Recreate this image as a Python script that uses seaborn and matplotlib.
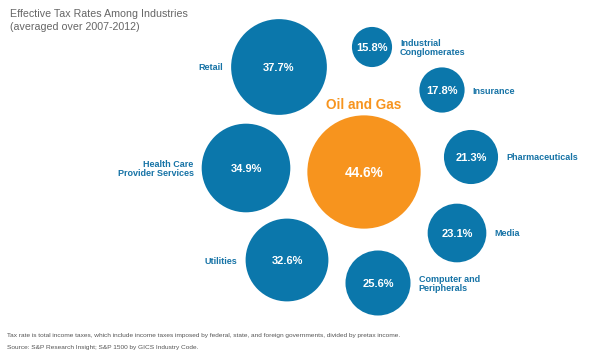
import matplotlib
matplotlib.use("Agg")
import matplotlib.pyplot as plt
import seaborn as sns
import pandas as pd

# ---- data ----
industries = ["Oil and Gas", "Retail", "Health Care\nProvider Services", "Utilities",
              "Computer and\nPeripherals", "Media", "Pharmaceuticals", "Insurance",
              "Industrial\nConglomerates"]
rates = [44.6, 37.7, 34.9, 32.6, 25.6, 23.1, 21.3, 17.8, 15.8]
groups = ["highlight", "other", "other", "other", "other", "other", "other", "other", "other"]

# ---- layout (pixel positions of bubble centres, label side) ----
pos_x = [364, 279, 246, 287, 378, 457, 471, 442, 372]
pos_y = [172, 67, 168, 260, 283, 233, 157, 90, 47]
label_side = ["top", "left", "left", "left", "right", "right", "right", "right", "right"]

W, H, DPI = 592, 360, 100
BLUE = "#0b77ab"
ORANGE = "#f7941e"
LABEL_BLUE = "#1673a6"
PX_PER_UNIT = 1.27  # bubble radius in px per percentage point

df = pd.DataFrame({"industry": industries, "rate": rates, "group": groups,
                   "x": pos_x, "y": pos_y, "side": label_side})

sns.set_theme(style="white")
plt.rcParams["font.family"] = ["Liberation Sans", "DejaVu Sans"]

fig = plt.figure(figsize=(W / DPI, H / DPI), dpi=DPI)
ax = fig.add_axes([0, 0, 1, 1])
ax.set_xlim(0, W)
ax.set_ylim(H, 0)
ax.axis("off")

# marker area (pt^2) so radius in px is proportional to rate
def area(v):
    d_pt = 2 * PX_PER_UNIT * v * 72 / DPI
    return d_pt ** 2

size_map = {v: area(v) for v in rates}
sns.scatterplot(data=df, x="x", y="y", hue="group", size="rate",
                palette={"highlight": ORANGE, "other": BLUE},
                sizes=size_map, legend=False, linewidth=0, edgecolor="none",
                alpha=1, ax=ax)

for _, row in df.iterrows():
    r = PX_PER_UNIT * row.rate
    big = row.group == "highlight"
    ax.text(row.x, row.y + 1, f"{row.rate:.1f}%", color="white", fontweight="bold",
            fontsize=9.8 if big else 8.0, ha="center", va="center")
    gap = 8
    if row.side == "left":
        ax.text(row.x - r - gap, row.y + 1, row.industry, color=LABEL_BLUE,
                fontweight="bold", fontsize=6.5, ha="right", va="center",
                multialignment="right", linespacing=1.1)
    elif row.side == "right":
        ax.text(row.x + r + gap, row.y + 1, row.industry, color=LABEL_BLUE,
                fontweight="bold", fontsize=6.5, ha="left", va="center",
                multialignment="left", linespacing=1.1)
    else:
        ax.text(row.x, row.y - r - 3, row.industry, color=ORANGE,
                fontweight="bold", fontsize=9.8, ha="center", va="bottom")

ax.text(10, 14, "Effective Tax Rates Among Industries", color="#666666",
        fontsize=7.7, ha="left", va="center")
ax.text(10, 27, "(averaged over 2007-2012)", color="#666666",
        fontsize=7.7, ha="left", va="center")

ax.text(7, 336, "Tax rate is total income taxes, which include income taxes imposed by federal, "
        "state, and foreign governments, divided by pretax income.",
        color="#555555", fontsize=4.65, ha="left", va="center")
ax.text(7, 348, "Source: S&P Research Insight; S&P 1500 by GICS Industry Code.",
        color="#555555", fontsize=4.65, ha="left", va="center")

fig.savefig("out.png", dpi=DPI)
